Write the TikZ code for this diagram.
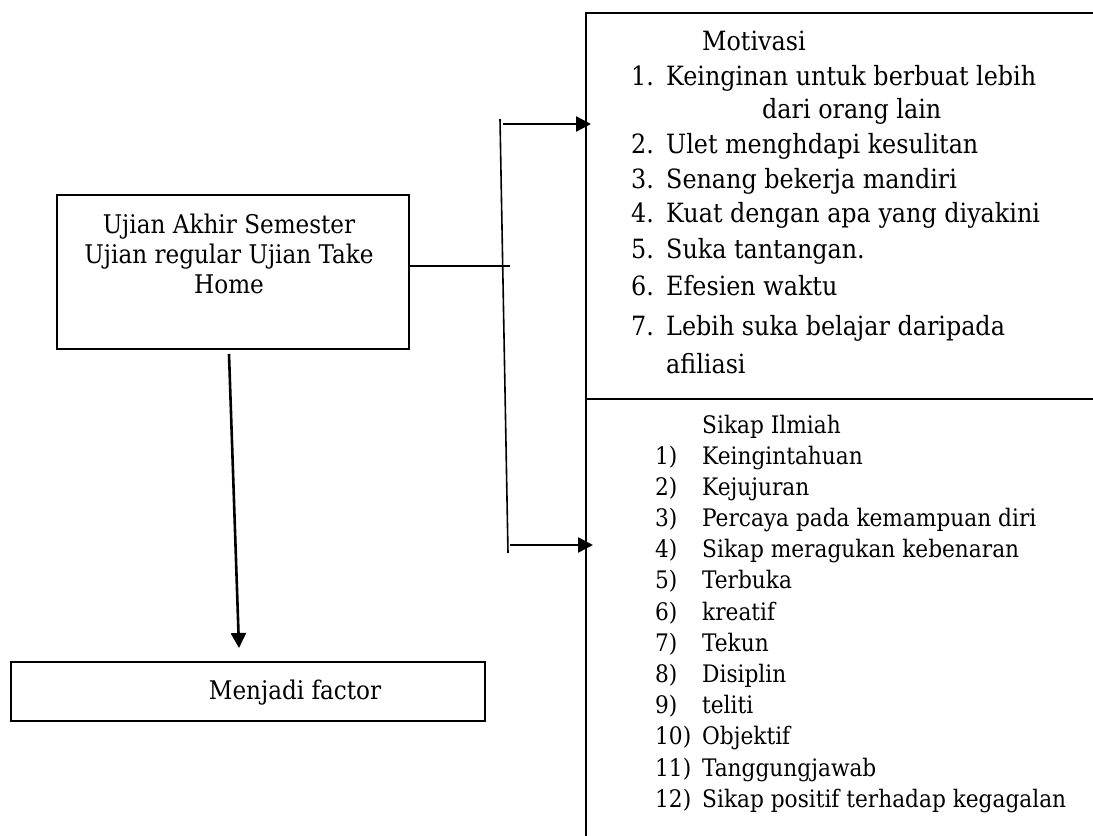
\documentclass[tikz,border=0pt]{standalone}
\usepackage{fontspec}
\setmainfont{DejaVu Serif Condensed}
\usetikzlibrary{arrows.meta}
\begin{document}
\begin{tikzpicture}[x=1bp,y=-1bp,
  box/.style={draw, line width=1.6bp, inner sep=0pt},
  conn/.style={line width=1.6bp},
  arr/.style={line width=2.6bp, -{Triangle[length=15bp,width=15bp]}},
  lefttxt/.style={anchor=base, inner sep=0pt, font=\fontsize{25.8}{30}\selectfont},
  mot/.style={anchor=base west, inner sep=0pt, font=\fontsize{26.6}{30}\selectfont},
  sik/.style={anchor=base west, inner sep=0pt, font=\fontsize{24.2}{30}\selectfont},
]
\useasboundingbox (0,0) rectangle (1093,836);
\clip (0,0) rectangle (1093,836);

% left box
\node[box, minimum width=352bp, minimum height=154bp, anchor=north west] (uas) at (56,194) {};
\node[lefttxt] (uas1) at (229,233) {Ujian Akhir Semester};
\node[lefttxt] (uas2) at (229,263) {Ujian regular Ujian Take};
\node[lefttxt] (uas3) at (229,293) {Home};

% Menjadi factor box
\node[box, minimum width=474bp, minimum height=59bp, anchor=north west] (mf) at (10,661) {};
\node[lefttxt] (mftxt) at (295,699) {Menjadi factor};

% right boxes
\node[box, minimum width=600bp, minimum height=386bp, anchor=north west] (motbox) at (585,12) {};
\node[box, minimum width=600bp, minimum height=480bp, anchor=north west] (sikbox) at (585,398) {};

% Motivasi text
\node[mot] (mt) at (702,50) {Motivasi};
\node[mot] (mn1) at (631,85) {1.};
\node[mot] (m1) at (666,85) {Keinginan untuk berbuat lebih};
\node[mot] (m1b) at (762,118) {dari orang lain};
\node[mot] (mn2) at (631,153) {2.};
\node[mot] (m2) at (666,153) {Ulet menghdapi kesulitan};
\node[mot] (mn3) at (631,188) {3.};
\node[mot] (m3) at (666,188) {Senang bekerja mandiri};
\node[mot] (mn4) at (631,222) {4.};
\node[mot] (m4) at (666,222) {Kuat dengan apa yang diyakini};
\node[mot] (mn5) at (631,258) {5.};
\node[mot] (m5) at (666,258) {Suka tantangan.};
\node[mot] (mn6) at (631,295) {6.};
\node[mot] (m6) at (666,295) {Efesien waktu};
\node[mot] (mn7) at (631,335) {7.};
\node[mot] (m7) at (666,335) {Lebih suka belajar daripada};
\node[mot] (m7b) at (666,373) {afiliasi};

% Sikap Ilmiah text
\node[sik] (st) at (702,433) {Sikap Ilmiah};
\foreach \n/\t [count=\i from 0] in {1)/Keingintahuan, 2)/Kejujuran, 3)/Percaya pada kemampuan diri, 4)/Sikap meragukan kebenaran, 5)/Terbuka, 6)/kreatif, 7)/Tekun, 8)/Disiplin, 9)/teliti, 10)/Objektif, 11)/Tanggungjawab, 12)/Sikap positif terhadap kegagalan}{
  \node[sik] (sn\i) at (655,464+31.2*\i) {\n};
  \node[sik] (s\i) at (702,464+31.2*\i) {\t};
}

% connectors
\coordinate (vtop) at (500,119);
\coordinate (vbot) at (508,553);
\coordinate (hend) at (510,266);
\draw[conn] (vtop) -- (vbot);
\draw[conn] (uas.east |- hend) -- (hend);

\coordinate (a1s) at (503,124);
\coordinate (a1e) at (591,124);
\draw[arr] (a1s) -- (a1e);
\coordinate (a2s) at (510,545);
\coordinate (a2e) at (593,545);
\draw[arr] (a2s) -- (a2e);

\coordinate (d1) at (229,354);
\coordinate (d2) at (239,648);
\draw[arr] (d1) -- (d2);
\end{tikzpicture}
\end{document}
